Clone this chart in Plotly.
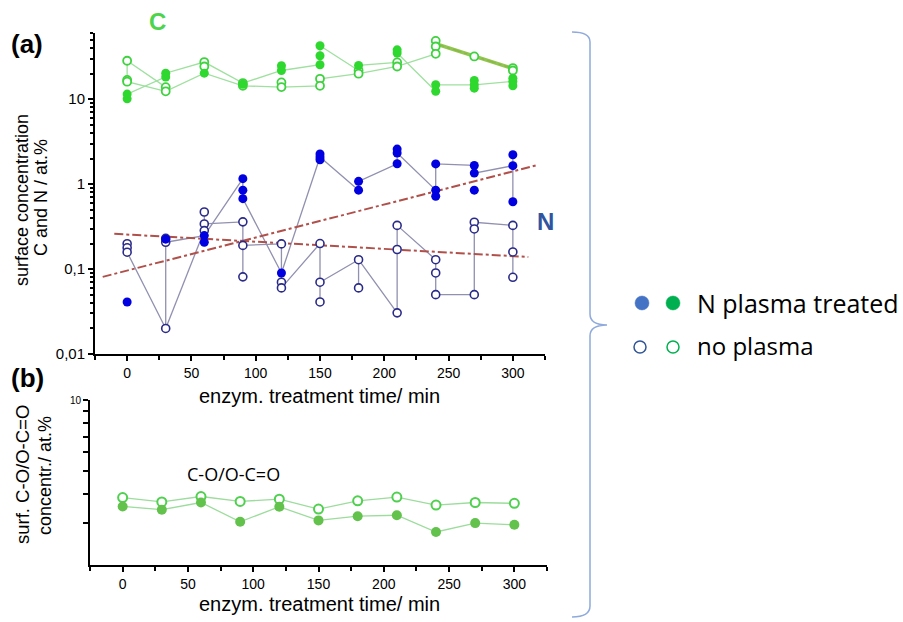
import plotly.graph_objects as go

W, H = 903, 622

# ---------------- data ----------------
times = [0, 30, 60, 90, 120, 150, 180, 210, 240, 270, 300]

# panel (a): N surface concentration (at.%), N plasma treated (filled) / no plasma (open)
N_plasma = [[0.041], [0.225], [0.248, 0.207], [1.16, 0.85, 0.675], [0.09],
            [2.27, 2.09, 1.94], [1.08, 0.85], [2.59, 2.33, 1.74],
            [1.73, 0.85, 0.72], [1.66, 1.35, 0.85], [2.22, 1.65, 0.62]]
N_none = [[0.199, 0.178, 0.158], [0.23, 0.207, 0.020], [0.47, 0.34, 0.284],
          [0.36, 0.19, 0.081], [0.198, 0.070, 0.060], [0.20, 0.070, 0.041],
          [0.129, 0.060], [0.327, 0.170, 0.0305], [0.129, 0.090, 0.050],
          [0.356, 0.297, 0.050], [0.327, 0.159, 0.080]]

# panel (a): C surface concentration (at.%)
C_plasma = [[11.5, 10.1], [20.3, 18.3], [20.3], [15.0], [24.8, 21.8],
            [42.6, 32.5, 25.5], [25.0], [38.2, 35.0], [14.8, 12.4],
            [16.6, 14.8, 13.5], [17.7, 16.2, 14.4]]
C_none = [[28.4, 16.9, 16.1], [13.9, 12.4], [27.4, 24.3], [15.5, 14.4],
          [15.8, 13.9], [17.4, 14.4], [21.8, 20.0], [27.1, 24.3],
          [48.7, 41.8, 34.3], [31.9], [23.3, 21.8]]

# connecting lines between individual measurements (time, value)
N_links = [
    [(0, 0.199), (0, 0.158), (30, 0.020), (30, 0.23)],
    [(30, 0.020), (60, 0.284)],
    [(30, 0.207), (60, 0.248), (90, 1.16), (90, 0.675), (120, 0.09), (150, 2.09)],
    [(60, 0.47), (60, 0.207)],
    [(60, 0.34), (90, 0.36), (90, 0.081)],
    [(90, 0.19), (120, 0.198), (120, 0.060), (150, 0.20), (150, 0.041)],
    [(150, 0.070), (180, 0.129), (180, 0.060)],
    [(180, 0.129), (210, 0.0305), (210, 0.327), (240, 0.129), (240, 0.050), (270, 0.050),
     (270, 0.356), (300, 0.327), (300, 0.080)],
    [(150, 2.27), (150, 1.94)],
    [(150, 2.09), (180, 0.85), (180, 1.08), (210, 1.74), (210, 2.59)],
    [(210, 2.33), (240, 0.85)],
    [(240, 0.72), (240, 1.73), (270, 1.66), (270, 1.35), (300, 1.65)],
    [(300, 2.22), (300, 0.62)],
]
C_links = [
    [(0, 28.4), (0, 16.1), (30, 12.4), (60, 20.3), (90, 14.4), (120, 13.9), (150, 14.4),
     (150, 17.4), (180, 20.0), (210, 24.3), (240, 34.3)],
    [(0, 10.1), (0, 11.5), (30, 18.3), (30, 20.3), (60, 27.4), (90, 15.5), (120, 21.8),
     (150, 25.5), (150, 42.6), (180, 21.8), (180, 25.0), (210, 27.1), (210, 35.0),
     (240, 12.4), (240, 14.8), (270, 14.8), (300, 16.2)],
    [(0, 28.4), (30, 13.9)],
]

# trend lines of N (dash-dot) and C (thick)
trend_plasma_t = [-19, 318]
trend_plasma_v = [0.081, 1.66]
trend_none_t = [-10, 312]
trend_none_v = [0.26, 0.139]
C_trend_t = [240, 270, 300]
C_trend_v = [45, 32, 23]

# panel (b): C-O/O-C=O surface concentration (at.%)
CO_plasma = [3.54, 3.43, 3.68, 3.05, 3.53, 3.09, 3.22, 3.25, 2.76, 3.01, 2.96]
CO_none = [3.86, 3.70, 3.90, 3.72, 3.80, 3.45, 3.74, 3.88, 3.59, 3.68, 3.65]

xticks = [0, 50, 100, 150, 200, 250, 300]
ya_tickvals = [0.01, 0.1, 1, 10]
ya_ticktext = ["0,01", "0,1", "1", "10"]
ya_minor = [m * d for d in (0.01, 0.1, 1, 10) for m in range(2, 10)]
yb_tickvals = [3, 4, 5, 6, 7, 8, 9, 10]
yb_ticktext = ["", "", "", "", "", "", "", "10"]

# ---------------- helpers ----------------
def fx(p):
    return p / W

def fy(p):
    return 1 - p / H

def flat(groups):
    xs, ys = [], []
    for t, g in zip(times, groups):
        for v in g:
            xs.append(t)
            ys.append(v)
    return xs, ys

def link_xy(links):
    xs, ys = [], []
    for path in links:
        for t, v in path:
            xs.append(t)
            ys.append(v)
        xs.append(None)
        ys.append(None)
    return xs, ys

fig = go.Figure()

# ---- panel (a) ----
lx, ly = link_xy(C_links)
fig.add_trace(go.Scatter(x=lx, y=ly, mode="lines", line=dict(color="#9fe09f", width=1.3),
                         xaxis="x", yaxis="y", showlegend=False, hoverinfo="skip"))
lx, ly = link_xy(N_links)
fig.add_trace(go.Scatter(x=lx, y=ly, mode="lines", line=dict(color="#9090b0", width=1.3),
                         xaxis="x", yaxis="y", showlegend=False, hoverinfo="skip"))

fig.add_trace(go.Scatter(x=trend_plasma_t, y=trend_plasma_v, mode="lines",
                         line=dict(color="#b0504a", width=2, dash="dashdot"),
                         xaxis="x", yaxis="y", showlegend=False))
fig.add_trace(go.Scatter(x=trend_none_t, y=trend_none_v, mode="lines",
                         line=dict(color="#b0504a", width=2, dash="dashdot"),
                         xaxis="x", yaxis="y", showlegend=False))
fig.add_trace(go.Scatter(x=C_trend_t, y=C_trend_v, mode="lines",
                         line=dict(color="#c8706a", width=1.5, dash="dashdot"),
                         xaxis="x", yaxis="y", showlegend=False))
fig.add_trace(go.Scatter(x=C_trend_t, y=C_trend_v, mode="lines",
                         line=dict(color="#86c040", width=3.5),
                         xaxis="x", yaxis="y", showlegend=False, opacity=0.9))

cx, cy = flat(C_none)
fig.add_trace(go.Scatter(x=cx, y=cy, mode="markers",
                         marker=dict(size=8, color="white", line=dict(color="#3fd23f", width=1.8)),
                         xaxis="x", yaxis="y", showlegend=False))
cx, cy = flat(C_plasma)
fig.add_trace(go.Scatter(x=cx, y=cy, mode="markers",
                         marker=dict(size=9, color="#2fd82f", line=dict(width=0)),
                         xaxis="x", yaxis="y", showlegend=False))
nx, ny = flat(N_none)
fig.add_trace(go.Scatter(x=nx, y=ny, mode="markers",
                         marker=dict(size=8, color="white", line=dict(color="#2a2a88", width=1.6)),
                         xaxis="x", yaxis="y", showlegend=False))
nx, ny = flat(N_plasma)
fig.add_trace(go.Scatter(x=nx, y=ny, mode="markers",
                         marker=dict(size=9, color="#0000e0", line=dict(width=0)),
                         xaxis="x", yaxis="y", showlegend=False))

# ---- panel (b) ----
fig.add_trace(go.Scatter(x=times, y=CO_none, mode="lines+markers",
                         line=dict(color="#9cdc9c", width=1.3),
                         marker=dict(size=9, color="white", line=dict(color="#4fd04f", width=2)),
                         xaxis="x2", yaxis="y2", showlegend=False))
fig.add_trace(go.Scatter(x=times, y=CO_plasma, mode="lines+markers",
                         line=dict(color="#9cdc9c", width=1.3),
                         marker=dict(size=10, color="#62c24c", line=dict(width=0)),
                         xaxis="x2", yaxis="y2", showlegend=False))

axis_common = dict(showline=True, linecolor="black", linewidth=2, ticks="outside",
                   ticklen=5, tickwidth=1.5, tickcolor="black", showgrid=False,
                   zeroline=False, mirror=False, automargin=False)

fig.update_layout(
    width=W, height=H,
    margin=dict(l=0, r=0, t=0, b=0),
    paper_bgcolor="white", plot_bgcolor="white",
    font=dict(family="Liberation Sans, Arial, sans-serif", color="black"),
    showlegend=False,
    xaxis=dict(domain=[fx(95), fx(545)], range=[-25, 325], tickvals=xticks,
               tickfont=dict(size=14), anchor="y",
               minor=dict(ticks="outside", ticklen=4, tickcolor="black", dtick=25, tick0=0),
               **axis_common),
    yaxis=dict(domain=[fy(354), fy(33)], type="log", range=[-2, 1.78],
               tickvals=ya_tickvals, ticktext=ya_ticktext, tickfont=dict(size=15),
               anchor="x",
               minor=dict(ticks="outside", ticklen=3, tickcolor="black", tickvals=ya_minor),
               **axis_common),
    xaxis2=dict(domain=[fx(90), fx(547)], range=[-25, 325], tickvals=xticks,
                tickfont=dict(size=14), anchor="y2",
                minor=dict(ticks="outside", ticklen=4, tickcolor="black", dtick=25, tick0=0),
                **axis_common),
    yaxis2=dict(domain=[fy(565), fy(400)], type="log", range=[0.30103, 1],
                tickvals=yb_tickvals, ticktext=yb_ticktext, tickfont=dict(size=10), anchor="x2",
                **axis_common),
)

ann = []
def text(x, y, s, size, color="black", bold=False, angle=0, family="Liberation Sans, Arial, sans-serif",
         xanchor="center"):
    ann.append(dict(x=fx(x), y=fy(y), xref="paper", yref="paper", text=(f"<b>{s}</b>" if bold else s),
                    showarrow=False, textangle=angle, xanchor=xanchor, yanchor="middle",
                    font=dict(size=size, color=color, family=family)))

text(27, 44, "(a)", 26, bold=True)
text(27, 378, "(b)", 26, bold=True)
text(157, 22, "C", 24, color="#4cd44c", bold=True)
text(545, 221, "N", 24, color="#2f55a0", bold=True)
text(22, 200, "surface concentration", 18, angle=-90)
text(41, 198, "C and N / at.%", 18, angle=-90)
text(22, 475, "surf. C-O/O-C=O", 18.5, angle=-90)
text(45, 476, "concentr./ at.%", 18, angle=-90)
text(319, 396, "enzym. treatment time/ min", 20)
text(319, 604, "enzym. treatment time/ min", 20)
text(234, 474, "C-O/O-C=O", 18, family="Open Sans, sans-serif")
text(695, 303, "N plasma treated", 25, family="Open Sans, sans-serif", xanchor="left")
text(695, 345, "no plasma", 24, family="Open Sans, sans-serif", xanchor="left")
fig.update_layout(annotations=ann)

# bracket
pts = ("M {0},{1} Q {2},{1} {2},{3} L {2},{4} Q {2},{5} {6},{5} Q {2},{5} {2},{7} "
       "L {2},{8} Q {2},{9} {0},{9}")
path = pts.format(fx(572), fy(32), fx(590), fy(42), fy(314), fy(325), fx(607), fy(336),
                  fy(606), fy(617))
shapes = [dict(type="path", path=path, xref="paper", yref="paper",
               line=dict(color="#8faadc", width=1.5))]

def circle(cx, cy, r, fill, line, lw):
    return dict(type="circle", xref="paper", yref="paper",
                x0=fx(cx - r), x1=fx(cx + r), y0=fy(cy + r), y1=fy(cy - r),
                fillcolor=fill, line=dict(color=line, width=lw))

shapes += [circle(642, 303, 7, "#4472c4", "#4472c4", 0.5),
           circle(673, 303, 7, "#00b050", "#00b050", 0.5),
           circle(640, 347, 6, "white", "#2f5597", 1.5),
           circle(673, 347, 6, "white", "#00b050", 1.5)]
fig.update_layout(shapes=shapes)

fig.write_html("out.html", config={"displayModeBar": False},
               post_script="document.body.style.margin='0';")
